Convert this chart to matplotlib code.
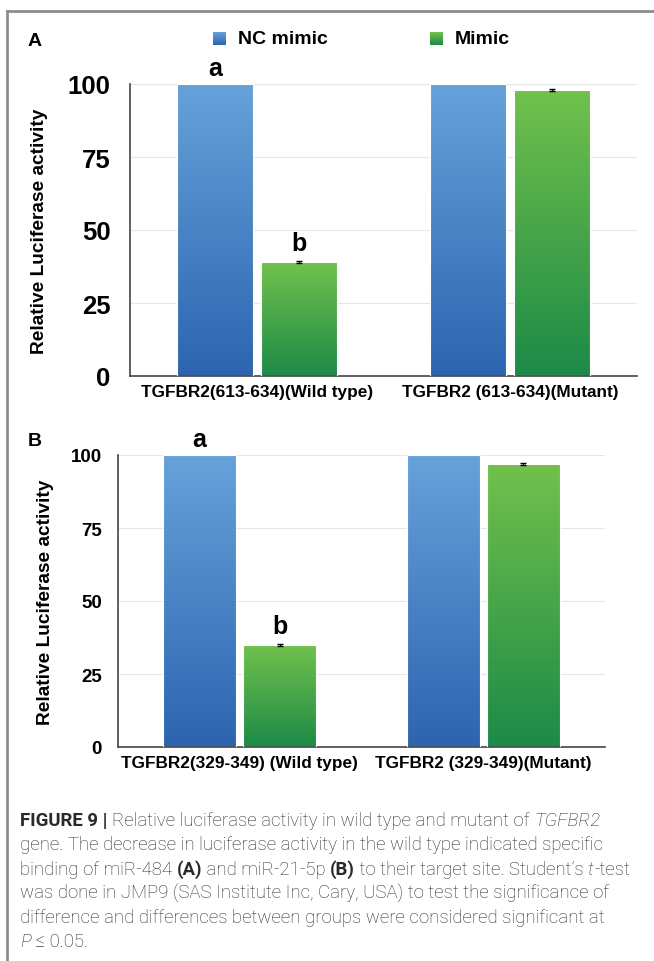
import numpy as np
import matplotlib
matplotlib.use("Agg")
import matplotlib.pyplot as plt
from matplotlib import font_manager
from matplotlib.colors import LinearSegmentedColormap
from matplotlib.patches import Rectangle

# ---- data ----
series_names = ["NC mimic", "Mimic"]
cats_a = ["TGFBR2(613-634)(Wild type)", "TGFBR2 (613-634)(Mutant)"]
nc_a = [100, 100]
mimic_a = [39, 98]
err_a = [0.3, 0.3]
letters_a = ["a", "b"]

cats_b = ["TGFBR2(329-349) (Wild type)", "TGFBR2 (329-349)(Mutant)"]
nc_b = [100, 100]
mimic_b = [35, 97]
err_b = [0.3, 0.3]
letters_b = ["a", "b"]

yticks = [0, 25, 50, 75, 100]

# ---- fonts ----
installed = {f.name for f in font_manager.fontManager.ttflist}
NARROW = "Liberation Sans Narrow" if "Liberation Sans Narrow" in installed else "Liberation Sans"
CAP = "Roboto" if "Roboto" in installed else "Liberation Sans"

W, H = 654, 962
fig = plt.figure(figsize=(W / 100, H / 100), dpi=100)
fig.patch.set_facecolor("white")

blue_cmap = LinearSegmentedColormap.from_list("b", ["#2d64b0", "#66a2da"])
green_cmap = LinearSegmentedColormap.from_list("g", ["#1c8a47", "#72c14c"])


def px_axes(l, r, top, bottom):
    return fig.add_axes([l / W, 1 - bottom / H, (r - l) / W, (bottom - top) / H])


def gradient_bars(ax, x, vals, width, cmap):
    bars = ax.bar(x, vals, width, color="none", edgecolor="none", zorder=2)
    grad = np.linspace(0, 1, 256).reshape(-1, 1)
    for b in bars:
        x0, w, h = b.get_x(), b.get_width(), b.get_height()
        im = ax.imshow(grad, cmap=cmap, origin="lower", aspect="auto",
                       extent=[x0, x0 + w, 0, h], zorder=2)
        im.set_clip_path(b)
        ax.add_patch(Rectangle((x0, 0), w, h, fill=False, edgecolor="white",
                               lw=0.8, zorder=3))
    return bars


def panel(ax, cats, nc, mimic, err, letters, tick_fs, tick_pad, cat_fs,
          lab_fs, let_fs):
    x = np.arange(len(cats))
    w, off = 0.30, 0.165
    gradient_bars(ax, x - off, nc, w, blue_cmap)
    gradient_bars(ax, x + off, mimic, w, green_cmap)
    ax.errorbar(x + off, mimic, yerr=err, fmt="none", ecolor="black",
                elinewidth=0.8, capsize=2.5, capthick=1.0, zorder=4)
    ax.set_xlim(-0.5, 1.5)
    ax.set_ylim(0, 100)
    ax.set_yticks(yticks)
    ax.set_yticklabels([str(t) for t in yticks], fontsize=tick_fs,
                       fontweight="bold", family=NARROW)
    ax.set_xticks(x)
    ax.set_xticklabels(cats, fontsize=cat_fs, fontweight="bold", family=NARROW)
    ax.tick_params(length=0)
    ax.tick_params(axis="y", pad=tick_pad)
    ax.tick_params(axis="x", pad=6)
    ax.set_ylabel("Relative Luciferase activity", fontsize=lab_fs,
                  fontweight="bold", family="Liberation Sans")
    ax.yaxis.grid(True, color="#e6e6e6", lw=0.8, zorder=0)
    ax.set_axisbelow(True)
    for s in ("top", "right"):
        ax.spines[s].set_visible(False)
    for s in ("left", "bottom"):
        ax.spines[s].set_color("#444444")
        ax.spines[s].set_linewidth(1.2)
    ax.text(0 - off, nc[0] + 1.5, letters[0], ha="center", va="bottom",
            fontsize=let_fs, fontweight="bold", family="Liberation Sans")
    ax.text(0 + off, mimic[0] + 2.5, letters[1], ha="center", va="bottom",
            fontsize=let_fs, fontweight="bold", family="Liberation Sans")


# panel A
axA = px_axes(130, 637, 85, 377)
panel(axA, cats_a, nc_a, mimic_a, err_a, letters_a, 18.5, 14, 12.4, 13.8, 18)
axA.yaxis.set_label_coords((40 - 130) / 507, 0.5)

# panel B
axB = px_axes(118, 605, 456, 748)
panel(axB, cats_b, nc_b, mimic_b, err_b, letters_b, 13.5, 11.5, 12.4, 13.8, 18)
axB.yaxis.set_label_coords((46 - 118) / 487, 0.5)
for ax in (axA, axB):
    ax.yaxis.label.set_verticalalignment("center")

# panel letters
fig.text(28 / W, 1 - 42 / H, "A", fontsize=14, fontweight="bold",
         family="Liberation Sans", ha="left", va="center")
fig.text(28 / W, 1 - 441 / H, "B", fontsize=14, fontweight="bold",
         family="Liberation Sans", ha="left", va="center")

# legend
for (sx, tx, name, cmap) in [(213, 238, series_names[0], blue_cmap),
                             (430, 455, series_names[1], green_cmap)]:
    lax = px_axes(sx, sx + 13, 33, 46)
    lax.imshow(np.linspace(0, 1, 64).reshape(-1, 1), cmap=cmap,
               origin="lower", aspect="auto")
    lax.axis("off")
    fig.text(tx / W, 1 - 40 / H, name, fontsize=14, fontweight="bold",
             family=NARROW, ha="left", va="center")

# frame lines
fig.add_artist(plt.Line2D([7 / W, 1], [1 - 12 / H, 1 - 12 / H],
                          color="#8c8c8c", lw=2))
fig.add_artist(plt.Line2D([7 / W, 7 / W], [0, 1 - 12 / H],
                          color="#8c8c8c", lw=2))

# caption, drawn run by run
fig.canvas.draw()
renderer = fig.canvas.get_renderer()
cap_fs = 13.4
cap_color = "#2a2a2a"
lines = [
    [("FIGURE 9 | ", "bold", "normal"),
     ("Relative luciferase activity in wild type and mutant of ", "light", "normal"),
     ("TGFBR2", "light", "italic")],
    [("gene. The decrease in luciferase activity in the wild type indicated specific", "light", "normal")],
    [("binding of miR-484 ", "light", "normal"), ("(A)", "bold", "normal"),
     (" and miR-21-5p ", "light", "normal"), ("(B)", "bold", "normal"),
     (" to their target site. Student\u2019s ", "light", "normal"),
     ("t", "light", "italic"), ("-test", "light", "normal")],
    [("was done in JMP9 (SAS Institute Inc, Cary, USA) to test the significance of", "light", "normal")],
    [("difference and differences between groups were considered significant at", "light", "normal")],
    [("P", "light", "italic"), (" \u2264 0.05.", "light", "normal")],
]
y0, dy = 821, 24.3
for i, runs in enumerate(lines):
    xpx = 20
    ypx = y0 + i * dy
    for txt, wt, st in runs:
        t = fig.text(xpx / W, 1 - ypx / H, txt, fontsize=cap_fs, fontweight=wt,
                     fontstyle=st, family=CAP, color=cap_color,
                     ha="left", va="center")
        bb = t.get_window_extent(renderer=renderer)
        xpx += bb.width

fig.savefig("out.png", dpi=100, facecolor="white")
